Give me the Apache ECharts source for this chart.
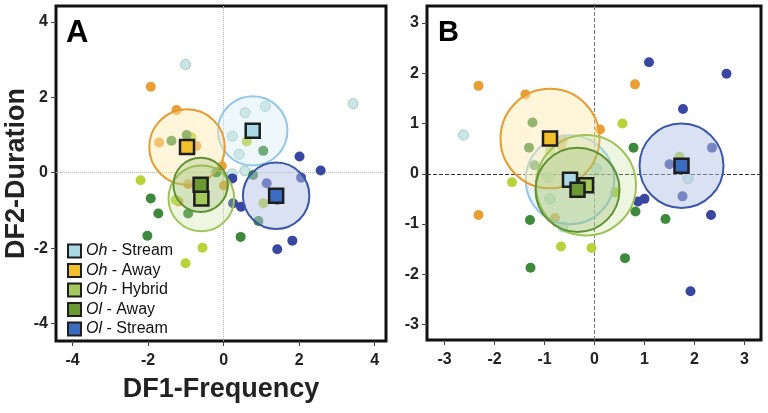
<!DOCTYPE html>
<html><head><meta charset="utf-8">
<script src="https://cdn.jsdelivr.net/npm/echarts@6/dist/echarts.min.js"></script>
<style>html,body{margin:0;padding:0;background:#fff}#c{width:768px;height:413px}</style>
</head><body><div id="c"></div>
<script>
// ---- data ----
const groups = ['Oh - Stream', 'Oh - Away', 'Oh - Hybrid', 'Ol - Away', 'Ol - Stream'];
const xTicksA = [-4, -2, 0, 2, 4];
const yTicksA = [-4, -2, 0, 2, 4];
const xTicksB = [-3, -2, -1, 0, 1, 2, 3];
const yTicksB = [-3, -2, -1, 0, 1, 2, 3];

// Panel A
const aOhStream = [[-1.01,2.87],[3.43,1.83],[0.57,1.59],[1.10,1.76],[0.23,0.97],[0.41,0.49],[0.56,0.05],[0.23,-0.03]];
const aOhAway = [[-1.93,2.28],[-1.25,1.66],[-1.71,0.80],[-0.72,0.71],[-0.05,0.18],[-0.94,-0.30],[0.01,-0.34],[-1.20,-0.76]];
const aOhHybrid = [[-2.20,-0.20],[0.61,0.83],[-0.85,0.94],[-0.56,-1.99],[-1.01,-2.40],[1.05,-0.81],[-1.27,-0.72]];
const aOlAway = [[-1.38,0.85],[-0.98,1.00],[1.05,0.58],[0.78,-0.06],[-0.19,0.01],[-1.93,-0.68],[-1.73,-1.08],[-0.94,-1.08],[-2.02,-1.67],[0.45,-1.70],[0.92,-1.28]];
const aOlStream = [[2.01,0.43],[2.57,0.06],[2.05,-0.13],[1.14,-0.28],[0.23,-0.15],[0.25,-0.81],[0.46,-0.90],[1.42,-0.72],[1.82,-1.80],[1.42,-2.03]];
const aMeans = [[0.77,1.11],[-0.97,0.68],[-0.59,-0.68],[-0.61,-0.32],[1.39,-0.61]];
const aRadius = [0.92, 1.00, 0.87, 0.72, 0.88];

// Panel B
const bOhStream = [[-2.62,0.77],[1.87,-0.10],[0.04,0.10],[-0.93,-0.07],[-0.89,-0.50],[-0.63,-1.06]];
const bOhAway = [[-2.32,1.75],[-1.38,1.58],[0.81,1.78],[0.11,0.88],[-0.63,0.68],[-0.66,0.56],[-2.32,-0.82],[-0.79,-0.88]];
const bOhHybrid = [[0.56,1.00],[-1.65,-0.17],[1.70,0.34],[-0.67,-1.45],[-0.06,-1.48],[0.41,-0.37],[-0.89,0.46]];
const bOlAway = [[-1.24,1.02],[-1.31,0.52],[-1.20,0.17],[0.78,0.52],[-1.29,-0.92],[-1.28,-1.87],[0.61,-1.68],[0.82,-0.75],[1.42,-0.90]];
const bOlStream = [[1.09,2.22],[2.64,1.99],[1.77,1.29],[2.35,0.52],[1.50,0.19],[1.76,-0.45],[2.33,-0.82],[1.92,-2.34],[0.87,-0.55],[1.00,-0.50]];
const bMeans = [[-0.49,-0.12],[-0.89,0.70],[-0.17,-0.23],[-0.34,-0.32],[1.74,0.16]];
const bRadius = [0.885, 0.99, 1.0, 0.84, 0.84];

// ---- styles ----
const pointColor = ['#cde6e4', '#e8a034', '#b7d337', '#3e8a3c', '#3a47a0'];
const pointBorder = ['#9fcccd', null, null, null, null];
const meanColor = ['#a9d9e6', '#f3c02b', '#a4c95a', '#6b9a32', '#3a6cbf'];
const ringColor = ['#93c6e8', '#e69b2c', '#9dc35a', '#5e9233', '#3a57a8'];
const ringFill = ['rgba(205,232,242,0.35)', 'rgba(252,232,175,0.45)', 'rgba(200,225,160,0.30)', 'rgba(140,180,95,0.28)', 'rgba(180,196,232,0.50)'];
const FONT = 'Liberation Sans, Arial, sans-serif';

const panels = [
  {pts: [aOhStream, aOhAway, aOhHybrid, aOlAway, aOlStream], means: aMeans, radius: aRadius,
   zeroStyleX: {color: '#b5b5b5', type: 'dotted', width: 1}, zeroStyleY: {color: '#b5b5b5', type: 'dotted', width: 1}},
  {pts: [bOhStream, bOhAway, bOhHybrid, bOlAway, bOlStream], means: bMeans, radius: bRadius,
   zeroStyleX: {color: '#777', type: 'dashed', width: 1}, zeroStyleY: {color: '#333', type: 'dashed', width: 1}}
];

function axis(gi, min, max, ticks, isY, name) {
  return {
    type: 'value', gridIndex: gi, min: min, max: max,
    position: isY ? 'left' : 'bottom',
    splitLine: {show: false},
    axisLine: {show: false, onZero: false},
    axisTick: {show: true, inside: false, length: 5, customValues: ticks, lineStyle: {color: '#444', width: 1}},
    axisLabel: {show: true, customValues: ticks, fontFamily: FONT, fontWeight: 'bold', fontSize: 16, color: '#222', margin: isY ? 8 : 12},
    name: name || '', nameLocation: 'middle', nameGap: isY ? 26 : 35,
    nameTextStyle: {fontFamily: FONT, fontWeight: 'bold', fontSize: 27, color: '#222'}
  };
}

const series = [];
panels.forEach((p, gi) => {
  p.pts.forEach((d, k) => {
    const s = {
      type: 'scatter', name: 'pts' + gi + k, xAxisIndex: gi, yAxisIndex: gi, data: d,
      symbol: 'circle', symbolSize: 10, z: 2,
      itemStyle: {color: pointColor[k], borderColor: pointBorder[k] || pointColor[k], borderWidth: pointBorder[k] ? 1 : 0, opacity: 1},
      silent: true
    };
    if (k === 0) {
      s.markLine = {silent: true, symbol: 'none', label: {show: false}, z: 1,
        data: [{xAxis: 0, lineStyle: p.zeroStyleX}, {yAxis: 0, lineStyle: p.zeroStyleY}]};
    }
    series.push(s);
  });
  p.means.forEach((m, k) => {
    series.push({
      type: 'custom', name: 'ring' + gi + k, xAxisIndex: gi, yAxisIndex: gi, z: 3, silent: true,
      data: [[m[0], m[1], p.radius[k]]],
      renderItem: function (params, api) {
        const c = api.coord([api.value(0), api.value(1)]);
        const s = api.size([api.value(2), api.value(2)]);
        return {type: 'ellipse', shape: {cx: c[0], cy: c[1], rx: s[0], ry: s[1]},
          style: {fill: ringFill[k], stroke: ringColor[k], lineWidth: 2}};
      }
    });
  });
  p.means.forEach((m, k) => {
    series.push({
      type: 'scatter', name: groups[k], xAxisIndex: gi, yAxisIndex: gi, z: 5,
      data: [m], symbol: 'rect', symbolSize: 14,
      itemStyle: {color: meanColor[k], borderColor: '#1e1e1e', borderWidth: 2.5, opacity: 1}
    });
  });
});

const option = {
  animation: false,
  backgroundColor: '#fff',
  textStyle: {fontFamily: FONT},
  title: [
    {text: 'A', left: 61, top: 13, textStyle: {fontFamily: FONT, fontWeight: 'bold', fontSize: 31, color: '#000'}},
    {text: 'B', left: 433, top: 13, textStyle: {fontFamily: FONT, fontWeight: 'bold', fontSize: 29, color: '#000'}}
  ],
  grid: [
    {left: 56, top: 6, width: 330, height: 335, show: true, borderColor: '#111', borderWidth: 3, backgroundColor: 'transparent'},
    {left: 427, top: 6, width: 334, height: 334, show: true, borderColor: '#111', borderWidth: 3, backgroundColor: 'transparent'}
  ],
  xAxis: [axis(0, -4.44, 4.30, xTicksA, false, 'DF1-Frequency'), axis(1, -3.35, 3.33, xTicksB, false, '')],
  yAxis: [axis(0, -4.46, 4.42, yTicksA, true, 'DF2-Duration'), axis(1, -3.31, 3.34, yTicksB, true, '')],
  legend: {
    data: groups, orient: 'vertical', left: 62, top: 238, itemGap: 3.5,
    itemWidth: 13, itemHeight: 13, icon: 'rect', selectedMode: false,
    itemStyle: {borderColor: '#1e1e1e', borderWidth: 2},
    textStyle: {fontFamily: FONT, fontSize: 16, color: '#111',
      rich: {i: {fontFamily: FONT, fontSize: 16, fontStyle: 'italic', color: '#111'}, t: {fontFamily: FONT, fontSize: 16, color: '#111'}}},
    formatter: function (n) { const p = n.split(' - '); return '{i|' + p[0] + '}{t| - ' + p[1] + '}'; }
  },
  series: series
};
echarts.init(document.getElementById('c'), null, {renderer: 'canvas'}).setOption(option);
</script></body></html>
